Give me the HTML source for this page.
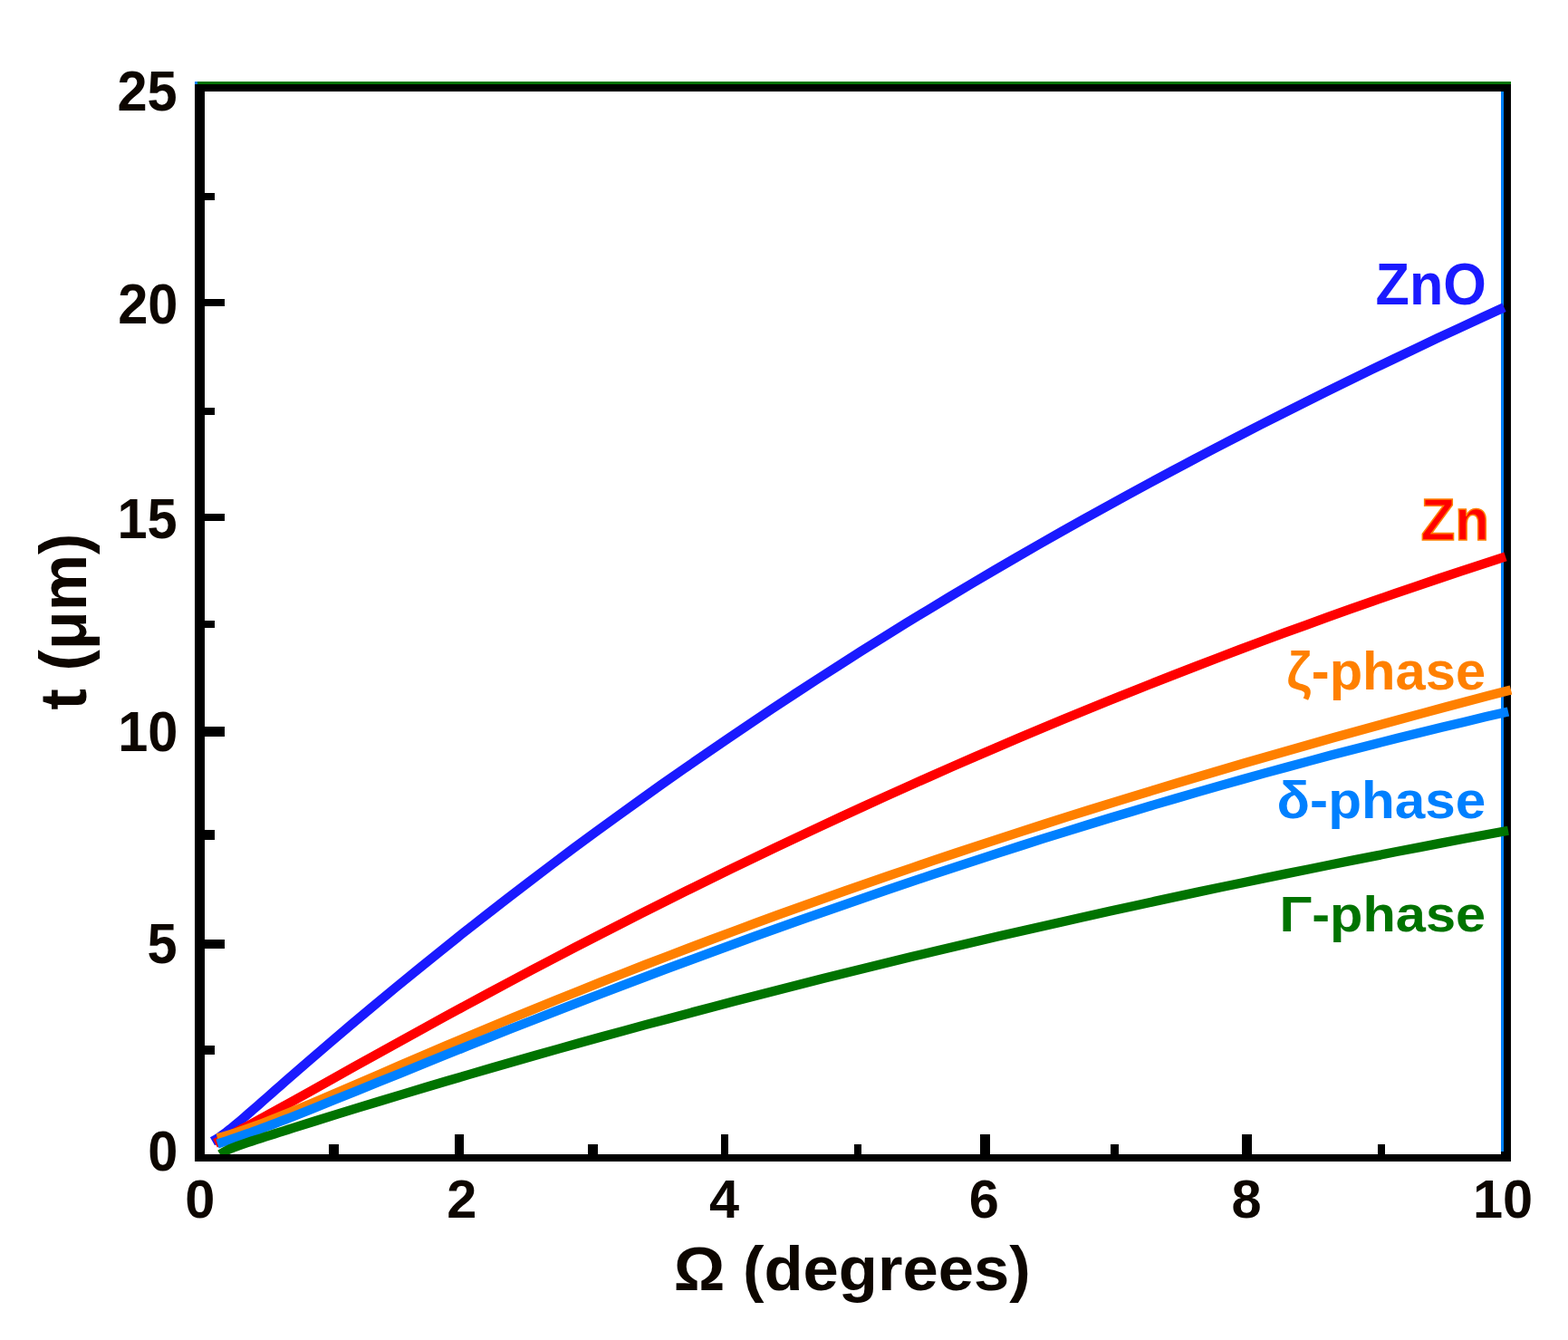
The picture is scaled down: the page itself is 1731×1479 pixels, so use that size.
<!DOCTYPE html>
<html lang="en">
<head>
<meta charset="utf-8">
<title>Penetration depth t versus incidence angle</title>
<style>
html,body{margin:0;padding:0;background:#ffffff;}
body{width:1731px;height:1479px;overflow:hidden;}
svg{display:block;}
text{font-family:"Liberation Sans",sans-serif;font-weight:bold;}
</style>
</head>
<body>
<svg width="1731" height="1479" viewBox="0 0 1731 1479">
<rect x="0" y="0" width="1731" height="1479" fill="#ffffff"/>

<g id="frame" shape-rendering="crispEdges">
<rect x="215" y="90" width="1453" height="11" fill="#000"/>
<rect x="215" y="90" width="1453" height="3" fill="#007300"/>
<rect x="215" y="90" width="3" height="3" fill="#0080ff"/>
<rect x="1657" y="101" width="3" height="1170" fill="#0080ff"/>
<rect x="1660" y="93" width="8" height="1189" fill="#000"/>
<rect x="1657" y="1271" width="3" height="3" fill="#000"/>
</g>
<g id="curves">
<polyline fill="none" stroke="#1a1aff" stroke-width="10.3" stroke-linejoin="round" points="234.5,1259.8 239.5,1256.9 244.5,1253.5 249.5,1249.8 254.5,1245.9 259.5,1241.8 264.5,1237.6 269.5,1233.3 274.5,1229.0 279.5,1224.7 284.5,1220.3 289.5,1215.9 294.5,1211.5 299.5,1207.1 304.5,1202.7 309.5,1198.3 314.5,1193.9 339.0,1172.6 363.4,1151.6 387.9,1130.8 412.4,1110.2 436.9,1089.9 461.3,1069.9 485.8,1050.2 510.3,1030.6 534.8,1011.4 559.2,992.4 583.7,973.6 608.2,955.0 632.6,936.7 657.1,918.7 681.6,900.8 706.1,883.2 730.5,865.8 755.0,848.6 779.5,831.7 804.0,814.9 828.4,798.4 852.9,782.0 877.4,765.9 901.8,750.0 926.3,734.3 950.8,718.7 975.3,703.4 999.7,688.2 1024.2,673.3 1048.7,658.5 1073.2,643.9 1097.6,629.5 1122.1,615.2 1146.6,601.1 1171.0,587.2 1195.5,573.5 1220.0,559.9 1244.5,546.5 1268.9,533.2 1293.4,520.1 1317.9,507.1 1342.4,494.2 1366.8,481.6 1391.3,469.0 1415.8,456.6 1440.2,444.3 1464.7,432.2 1489.2,420.1 1513.7,408.2 1538.1,396.5 1562.6,384.8 1587.1,373.2 1611.6,361.8 1636.0,350.5 1660.5,339.3"/>
<polyline fill="none" stroke="#ff0000" stroke-width="10.3" stroke-linejoin="round" points="237.5,1261.9 242.5,1259.3 247.5,1256.6 252.5,1254.0 257.5,1251.3 262.5,1248.6 267.5,1245.9 272.5,1243.2 277.5,1240.5 282.5,1237.8 287.5,1235.0 292.5,1232.3 297.5,1229.5 302.5,1226.8 307.5,1224.0 312.5,1221.2 317.5,1218.5 341.9,1204.9 366.4,1191.2 390.8,1177.6 415.3,1164.0 439.7,1150.4 464.2,1137.0 488.6,1123.6 513.1,1110.3 537.5,1097.1 562.0,1084.0 586.4,1071.0 610.8,1058.2 635.3,1045.4 659.7,1032.8 684.2,1020.3 708.6,1007.9 733.1,995.6 757.5,983.4 782.0,971.3 806.4,959.4 830.9,947.6 855.3,935.9 879.7,924.3 904.2,912.8 928.6,901.5 953.1,890.2 977.5,879.1 1002.0,868.1 1026.4,857.2 1050.9,846.4 1075.3,835.8 1099.8,825.3 1124.2,814.8 1148.6,804.5 1173.1,794.3 1197.5,784.2 1222.0,774.3 1246.4,764.4 1270.9,754.7 1295.3,745.1 1319.8,735.6 1344.2,726.2 1368.7,716.9 1393.1,707.7 1417.5,698.7 1442.0,689.8 1466.4,680.9 1490.9,672.2 1515.3,663.6 1539.8,655.1 1564.2,646.8 1588.7,638.5 1613.1,630.4 1637.6,622.3 1662.0,614.4"/>
<polyline fill="none" stroke="#ff8000" stroke-width="10.3" stroke-linejoin="round" points="240.0,1256.3 245.0,1254.9 250.0,1253.4 255.0,1251.9 260.0,1250.3 265.0,1248.6 270.0,1246.9 275.0,1245.2 280.0,1243.4 285.0,1241.6 290.0,1239.7 295.0,1237.8 300.0,1235.8 305.0,1233.9 310.0,1231.9 315.0,1229.9 320.0,1227.9 344.5,1217.7 369.0,1207.3 393.5,1196.8 418.0,1186.2 442.5,1175.6 467.1,1165.1 491.6,1154.6 516.1,1144.3 540.6,1134.0 565.1,1123.8 589.6,1113.7 614.1,1103.8 638.6,1093.9 663.1,1084.1 687.6,1074.5 712.1,1064.9 736.7,1055.5 761.2,1046.1 785.7,1036.9 810.2,1027.7 834.7,1018.7 859.2,1009.7 883.7,1000.9 908.2,992.1 932.7,983.4 957.2,974.9 981.7,966.4 1006.3,958.0 1030.8,949.7 1055.3,941.5 1079.8,933.4 1104.3,925.4 1128.8,917.4 1153.3,909.5 1177.8,901.7 1202.3,894.0 1226.8,886.4 1251.3,878.9 1275.9,871.4 1300.4,864.0 1324.9,856.7 1349.4,849.5 1373.9,842.3 1398.4,835.2 1422.9,828.2 1447.4,821.2 1471.9,814.3 1496.4,807.5 1520.9,800.7 1545.5,794.0 1570.0,787.4 1594.5,780.8 1619.0,774.3 1643.5,767.8 1668.0,761.4"/>
<polyline fill="none" stroke="#0080ff" stroke-width="10.3" stroke-linejoin="round" points="240.0,1262.5 245.0,1260.9 250.0,1259.3 255.0,1257.6 260.0,1255.9 265.0,1254.2 270.0,1252.4 275.0,1250.7 280.0,1248.8 285.0,1247.0 290.0,1245.2 295.0,1243.3 300.0,1241.4 305.0,1239.5 310.0,1237.5 315.0,1235.6 320.0,1233.7 344.5,1224.0 368.9,1214.1 393.4,1204.2 417.8,1194.3 442.3,1184.4 466.7,1174.5 491.2,1164.6 515.6,1154.8 540.1,1145.0 564.5,1135.3 589.0,1125.7 613.5,1116.1 637.9,1106.6 662.4,1097.2 686.8,1087.9 711.3,1078.6 735.7,1069.4 760.2,1060.3 784.6,1051.3 809.1,1042.3 833.5,1033.4 858.0,1024.6 882.5,1015.9 906.9,1007.3 931.4,998.8 955.8,990.3 980.3,981.9 1004.7,973.6 1029.2,965.4 1053.6,957.3 1078.1,949.3 1102.5,941.3 1127.0,933.5 1151.5,925.7 1175.9,918.1 1200.4,910.5 1224.8,903.0 1249.3,895.7 1273.7,888.4 1298.2,881.2 1322.6,874.1 1347.1,867.1 1371.5,860.2 1396.0,853.4 1420.5,846.7 1444.9,840.1 1469.4,833.6 1493.8,827.2 1518.3,821.0 1542.7,814.8 1567.2,808.7 1591.6,802.7 1616.1,796.9 1640.5,791.1 1665.0,785.5"/>
<polyline fill="none" stroke="#007300" stroke-width="10.3" stroke-linejoin="round" points="243.0,1274.2 248.0,1271.0 253.0,1268.5 258.0,1266.5 263.0,1264.6 268.0,1262.9 273.0,1261.2 278.0,1259.5 283.0,1257.9 288.0,1256.3 293.0,1254.7 298.0,1253.1 303.0,1251.5 308.0,1249.9 313.0,1248.3 318.0,1246.8 323.0,1245.2 347.4,1237.5 371.8,1229.9 396.2,1222.4 420.6,1215.0 445.0,1207.6 469.4,1200.3 493.8,1193.0 518.2,1185.9 542.6,1178.8 567.0,1171.7 591.4,1164.8 615.8,1157.9 640.2,1151.0 664.6,1144.3 689.0,1137.6 713.4,1130.9 737.8,1124.4 762.2,1117.9 786.6,1111.4 811.0,1105.0 835.4,1098.7 859.8,1092.4 884.2,1086.2 908.6,1080.1 933.0,1074.0 957.4,1068.0 981.8,1062.0 1006.2,1056.1 1030.6,1050.3 1055.0,1044.5 1079.4,1038.8 1103.8,1033.1 1128.2,1027.5 1152.6,1021.9 1177.0,1016.4 1201.4,1010.9 1225.8,1005.5 1250.2,1000.2 1274.6,994.9 1299.0,989.6 1323.4,984.4 1347.8,979.3 1372.2,974.2 1396.6,969.1 1421.0,964.1 1445.4,959.2 1469.8,954.3 1494.2,949.4 1518.6,944.6 1543.0,939.8 1567.4,935.1 1591.8,930.4 1616.2,925.8 1640.6,921.2 1665.0,916.7"/>
</g>
<g id="axes" shape-rendering="crispEdges">
<rect x="215" y="93" width="11" height="1189" fill="#000"/>
<rect x="215" y="1274" width="1453" height="8" fill="#000"/>
<rect x="363" y="1263" width="10.5" height="12" fill="#000"/>
<rect x="502" y="1252" width="10" height="23" fill="#000"/>
<rect x="649" y="1263" width="11" height="12" fill="#000"/>
<rect x="796" y="1252" width="8" height="23" fill="#000"/>
<rect x="943" y="1263" width="8" height="12" fill="#000"/>
<rect x="1082" y="1252" width="11" height="23" fill="#000"/>
<rect x="1226" y="1263" width="8.5" height="12" fill="#000"/>
<rect x="1371" y="1252" width="10.5" height="23" fill="#000"/>
<rect x="1521" y="1263" width="8" height="12" fill="#000"/>
<rect x="225" y="213" width="12" height="8" fill="#000"/>
<rect x="225" y="330" width="23" height="8" fill="#000"/>
<rect x="225" y="450" width="12" height="8" fill="#000"/>
<rect x="225" y="567" width="23" height="8" fill="#000"/>
<rect x="225" y="684.5" width="12" height="8" fill="#000"/>
<rect x="225" y="802" width="23" height="11" fill="#000"/>
<rect x="225" y="916" width="12" height="11" fill="#000"/>
<rect x="225" y="1036.5" width="23" height="10.5" fill="#000"/>
<rect x="225" y="1153.5" width="12" height="10.5" fill="#000"/>
</g>
<g id="ticks">
<text transform="translate(129.44,122.40) scale(0.9600,1.0023)" x="0" y="0" font-size="62" fill="#0d0600">25</text>
<text transform="translate(130.16,356.60) scale(0.9600,1.0023)" x="0" y="0" font-size="62" fill="#0d0600">20</text>
<text transform="translate(129.44,594.40) scale(0.9600,1.0023)" x="0" y="0" font-size="62" fill="#0d0600">15</text>
<text transform="translate(130.16,828.60) scale(0.9600,1.0023)" x="0" y="0" font-size="62" fill="#0d0600">10</text>
<text transform="translate(162.56,1063.40) scale(0.9600,1.0023)" x="0" y="0" font-size="62" fill="#0d0600">5</text>
<text transform="translate(163.28,1292.40) scale(0.9600,1.0023)" x="0" y="0" font-size="62" fill="#0d0600">0</text>
<text transform="translate(204.34,1344.20) scale(0.9600,0.9471)" x="0" y="0" font-size="62" fill="#0d0600">0</text>
<text transform="translate(493.26,1344.20) scale(0.9600,0.9471)" x="0" y="0" font-size="62" fill="#0d0600">2</text>
<text transform="translate(783.08,1344.20) scale(0.9600,0.9471)" x="0" y="0" font-size="62" fill="#0d0600">4</text>
<text transform="translate(1069.84,1344.20) scale(0.9600,0.9471)" x="0" y="0" font-size="62" fill="#0d0600">6</text>
<text transform="translate(1359.44,1344.20) scale(0.9600,0.9471)" x="0" y="0" font-size="62" fill="#0d0600">8</text>
<text transform="translate(1625.96,1344.20) scale(0.9600,0.9471)" x="0" y="0" font-size="62" fill="#0d0600">10</text>
</g>
<g id="titles">
<text transform="translate(743.72,1424.30) scale(0.9945,0.9709)" x="0" y="0" font-size="71" fill="#0d0600">Ω (degrees)</text>
<text transform="translate(95.30,783.44) rotate(-90) scale(0.9881,1.0214)" x="0" y="0" font-size="71" fill="#0d0600">t (μm)</text>
</g>
<g id="labels">
<text transform="translate(1518.57,335.70) scale(0.9874,1.0316)" x="0" y="0" font-size="62" fill="#1a1aff">ZnO</text>
<text transform="translate(1568.49,596.20) scale(1.0070,1.0451)" x="0" y="0" font-size="61.5" fill="#ff0000" stroke="#ff8000" stroke-width="1.5">Zn</text>
<text transform="translate(1420.27,760.80) scale(0.9632,0.9667)" x="0" y="0" font-size="62" fill="#ff8000">ζ-phase</text>
<text transform="translate(1409.57,902.80) scale(0.9719,0.9111)" x="0" y="0" font-size="62" fill="#0080ff">δ-phase</text>
<text transform="translate(1412.42,1028.10) scale(0.9608,0.9067)" x="0" y="0" font-size="62" fill="#007300">Γ-phase</text>
</g>
</svg>
</body>
</html>
